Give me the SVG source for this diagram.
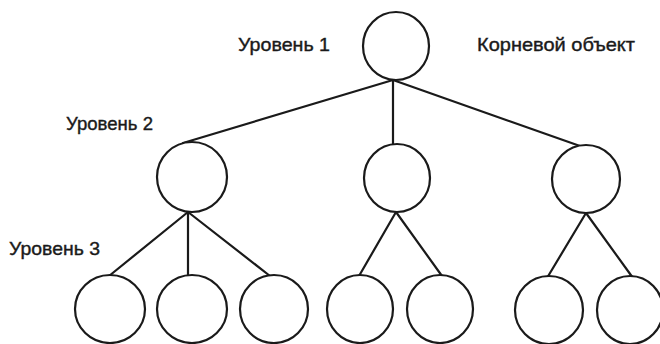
<svg xmlns="http://www.w3.org/2000/svg" width="660" height="344" viewBox="0 0 660 344">
<style>
.n{fill:#fff;stroke:#1a1a1a;stroke-width:2.2}
.c line{stroke:#1a1a1a;stroke-width:2.2;stroke-linecap:round}
.t{font-family:"Liberation Sans",Arial,sans-serif;font-size:19px;fill:#1a1a1a;stroke:#1a1a1a;stroke-width:0.4}
</style>
<rect width="660" height="344" fill="#fff"/>
<g id="connectors" class="c">
<line x1="393" y1="80" x2="183" y2="143"/>
<line x1="393" y1="80" x2="393" y2="144"/>
<line x1="393" y1="80" x2="580" y2="146"/>
<line x1="188" y1="212" x2="109" y2="276"/>
<line x1="188" y1="212" x2="188" y2="276"/>
<line x1="188" y1="212" x2="270" y2="276"/>
<line x1="396" y1="212" x2="359" y2="276"/>
<line x1="396" y1="212" x2="442" y2="276"/>
<line x1="586" y1="213" x2="547" y2="278"/>
<line x1="586" y1="213" x2="633" y2="278"/>
</g>
<g id="root"><ellipse class="n" cx="396" cy="46" rx="33" ry="34"/></g>
<g id="l2a"><ellipse class="n" cx="192" cy="177" rx="35" ry="35"/></g>
<g id="l2b"><ellipse class="n" cx="397" cy="178" rx="33" ry="34"/></g>
<g id="l2c"><ellipse class="n" cx="586" cy="179" rx="34" ry="34"/></g>
<g id="l3a"><ellipse class="n" cx="110" cy="309" rx="35" ry="34"/></g>
<g id="l3b"><ellipse class="n" cx="192" cy="309" rx="35" ry="34"/></g>
<g id="l3c"><ellipse class="n" cx="274" cy="309" rx="34" ry="34"/></g>
<g id="l3d"><ellipse class="n" cx="360" cy="309" rx="33" ry="34"/></g>
<g id="l3e"><ellipse class="n" cx="440" cy="309" rx="33" ry="34"/></g>
<g id="l3f"><ellipse class="n" cx="549" cy="310" rx="34" ry="34"/></g>
<g id="l3g"><ellipse class="n" cx="630" cy="310" rx="33" ry="34"/></g>
<g id="labels">
<text class="t" x="238" y="51" textLength="92" lengthAdjust="spacingAndGlyphs">Уровень 1</text>
<text class="t" x="477" y="51" textLength="158" lengthAdjust="spacingAndGlyphs">Корневой объект</text>
<text class="t" x="66" y="130" textLength="87" lengthAdjust="spacingAndGlyphs">Уровень 2</text>
<text class="t" x="9" y="255" textLength="91" lengthAdjust="spacingAndGlyphs">Уровень 3</text>
</g>
</svg>
